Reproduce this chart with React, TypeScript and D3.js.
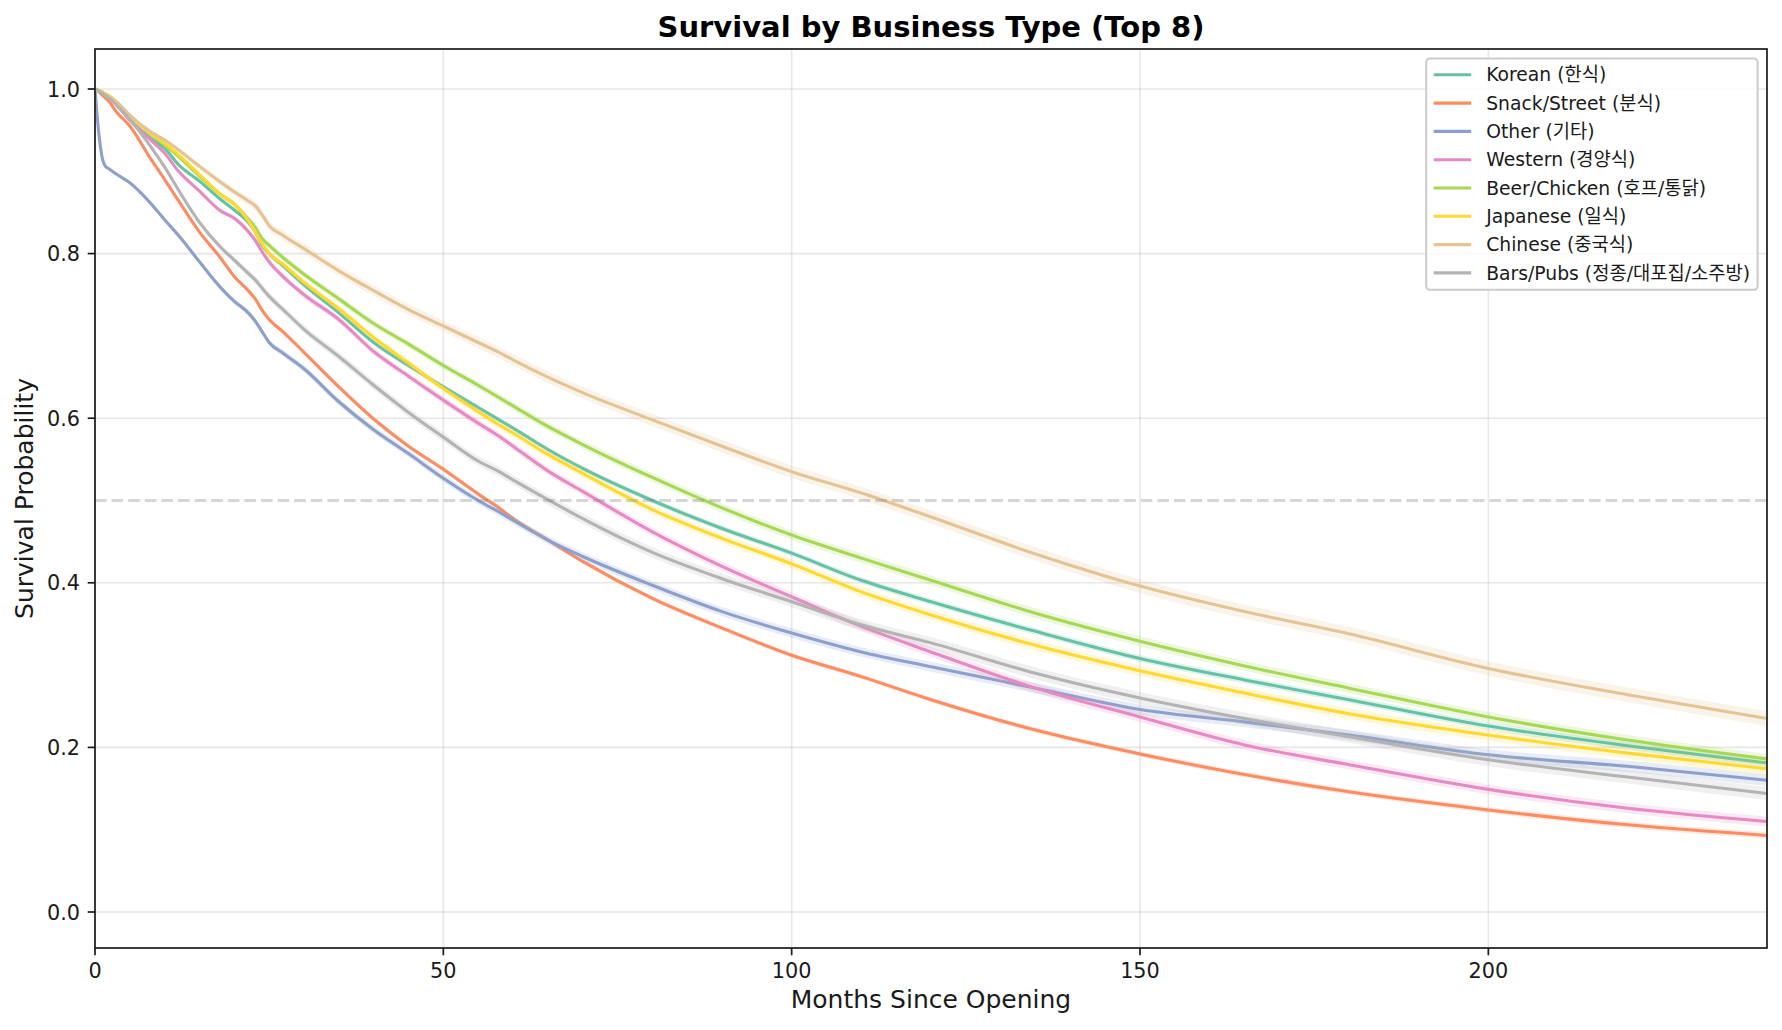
import React, { useEffect, useRef } from 'react';
import * as d3 from 'd3';

// ---------- DATA ----------
const months = [0, 0.5, 1, 1.5, 2, 3, 5, 8, 10, 12, 15, 18, 20, 22, 23, 24, 25, 27, 30, 35, 40, 45, 50, 55, 58, 60, 65, 70, 80, 90, 100, 110, 120, 135, 150, 165, 180, 200, 220, 240];

const korean = [1, 0.998, 0.996, 0.993, 0.99, 0.983, 0.963, 0.94, 0.928, 0.908, 0.888, 0.866, 0.853, 0.838, 0.826, 0.81, 0.8, 0.785, 0.762, 0.728, 0.692, 0.664, 0.638, 0.613, 0.598, 0.588, 0.562, 0.539, 0.5, 0.466, 0.436, 0.403, 0.377, 0.341, 0.308, 0.282, 0.258, 0.226, 0.202, 0.181];
const snack = [1, 0.997, 0.993, 0.989, 0.985, 0.973, 0.955, 0.915, 0.89, 0.864, 0.826, 0.795, 0.772, 0.755, 0.745, 0.731, 0.72, 0.705, 0.68, 0.638, 0.599, 0.566, 0.538, 0.508, 0.491, 0.478, 0.452, 0.426, 0.381, 0.345, 0.312, 0.286, 0.258, 0.221, 0.192, 0.167, 0.146, 0.124, 0.106, 0.093];
const other = [1, 0.95, 0.918, 0.906, 0.903, 0.897, 0.886, 0.861, 0.841, 0.822, 0.79, 0.759, 0.742, 0.728, 0.718, 0.705, 0.692, 0.679, 0.66, 0.62, 0.586, 0.557, 0.527, 0.5, 0.486, 0.476, 0.452, 0.432, 0.397, 0.365, 0.339, 0.316, 0.298, 0.272, 0.246, 0.231, 0.215, 0.191, 0.177, 0.16];
const western = [1, 0.998, 0.996, 0.993, 0.99, 0.982, 0.962, 0.938, 0.922, 0.9, 0.876, 0.852, 0.843, 0.827, 0.816, 0.802, 0.79, 0.772, 0.75, 0.72, 0.681, 0.651, 0.622, 0.594, 0.578, 0.566, 0.536, 0.511, 0.462, 0.42, 0.383, 0.347, 0.316, 0.272, 0.237, 0.203, 0.179, 0.149, 0.126, 0.11];
const beer = [1, 0.998, 0.996, 0.993, 0.991, 0.985, 0.968, 0.945, 0.932, 0.918, 0.894, 0.872, 0.86, 0.842, 0.832, 0.818, 0.81, 0.795, 0.775, 0.745, 0.715, 0.69, 0.664, 0.64, 0.625, 0.615, 0.59, 0.568, 0.528, 0.491, 0.458, 0.43, 0.403, 0.363, 0.329, 0.299, 0.272, 0.237, 0.209, 0.186];
const japanese = [1, 0.998, 0.997, 0.994, 0.992, 0.985, 0.967, 0.946, 0.934, 0.92, 0.896, 0.872, 0.86, 0.84, 0.826, 0.812, 0.8, 0.787, 0.765, 0.733, 0.698, 0.667, 0.636, 0.608, 0.592, 0.582, 0.556, 0.533, 0.489, 0.454, 0.423, 0.389, 0.361, 0.324, 0.293, 0.266, 0.241, 0.215, 0.193, 0.174];
const chinese = [1, 0.998, 0.996, 0.993, 0.991, 0.985, 0.968, 0.948, 0.938, 0.926, 0.906, 0.887, 0.875, 0.864, 0.858, 0.847, 0.834, 0.822, 0.806, 0.779, 0.755, 0.732, 0.712, 0.692, 0.68, 0.671, 0.65, 0.631, 0.598, 0.566, 0.535, 0.509, 0.48, 0.435, 0.396, 0.365, 0.338, 0.296, 0.264, 0.235];
const bars = [1, 0.998, 0.995, 0.992, 0.989, 0.981, 0.963, 0.93, 0.905, 0.877, 0.838, 0.808, 0.792, 0.776, 0.768, 0.758, 0.748, 0.732, 0.708, 0.675, 0.64, 0.607, 0.577, 0.548, 0.535, 0.525, 0.501, 0.478, 0.437, 0.405, 0.377, 0.349, 0.327, 0.29, 0.26, 0.235, 0.213, 0.185, 0.164, 0.144];

// confidence band half-widths, read at a few months
const ciMonths = [0, 24, 60, 120, 240];
const ciKorean = [0, 0.003, 0.003, 0.004, 0.005];
const ciSnack = [0, 0.003, 0.003, 0.003, 0.004];
const ciOther = [0, 0.004, 0.005, 0.006, 0.007];
const ciWestern = [0, 0.004, 0.005, 0.006, 0.006];
const ciBeer = [0, 0.004, 0.005, 0.006, 0.006];
const ciJapanese = [0, 0.004, 0.005, 0.006, 0.007];
const ciChinese = [0, 0.006, 0.007, 0.008, 0.009];
const ciBars = [0, 0.005, 0.006, 0.007, 0.008];

const labels = [
  'Korean (한식)',
  'Snack/Street (분식)',
  'Other (기타)',
  'Western (경양식)',
  'Beer/Chicken (호프/통닭)',
  'Japanese (일식)',
  'Chinese (중국식)',
  'Bars/Pubs (정종/대포집/소주방)',
];
const colors = ['#66c2a5', '#fc8d62', '#8da0cb', '#e78ac3', '#a6d854', '#ffd92f', '#e5c494', '#b3b3b3'];
const seriesValues = [korean, snack, other, western, beer, japanese, chinese, bars];
const seriesCI = [ciKorean, ciSnack, ciOther, ciWestern, ciBeer, ciJapanese, ciChinese, ciBars];

const xTicks = [0, 50, 100, 150, 200];
const yTicks = [0, 0.2, 0.4, 0.6, 0.8, 1.0];

const title = 'Survival by Business Type (Top 8)';
const xLabel = 'Months Since Opening';
const yLabel = 'Survival Probability';

const FONT = "'DejaVu Sans', 'Noto Sans CJK KR', sans-serif";

export default function App() {
  const ref = useRef<SVGSVGElement>(null);

  useEffect(() => {
    const svg = d3.select(ref.current);
    svg.selectAll('*').remove();

    const L = 95, R = 1767, T = 49, B = 948;
    const x = d3.scaleLinear().domain([0, 240]).range([L, R]);
    const y = d3.scaleLinear().domain([0, 1]).range([912, 89]);

    svg.append('rect').attr('width', 1782).attr('height', 1030).attr('fill', '#fff');

    const defs = svg.append('defs');
    defs.append('clipPath').attr('id', 'plotclip')
      .append('rect').attr('x', L).attr('y', T).attr('width', R - L).attr('height', B - T);

    // grid
    const grid = svg.append('g');
    xTicks.forEach((t) => {
      grid.append('line').attr('x1', x(t)).attr('x2', x(t)).attr('y1', T).attr('y2', B)
        .attr('stroke', '#b0b0b0').attr('stroke-opacity', 0.3).attr('stroke-width', 1.6);
    });
    yTicks.forEach((t) => {
      grid.append('line').attr('x1', L).attr('x2', R).attr('y1', y(t)).attr('y2', y(t))
        .attr('stroke', '#b0b0b0').attr('stroke-opacity', 0.3).attr('stroke-width', 1.6);
    });

    // series
    const plot = svg.append('g').attr('clip-path', 'url(#plotclip)');
    seriesValues.forEach((vals, i) => {
      const ciScale = d3.scaleLinear().domain(ciMonths).range(seriesCI[i]);
      const pts = months.map((m, j) => ({ m, v: vals[j], h: ciScale(m) }));
      const area = d3.area<any>()
        .x((d) => x(d.m))
        .y0((d) => y(d.v - d.h))
        .y1((d) => y(d.v + d.h))
        .curve(d3.curveMonotoneX);
      plot.append('path').attr('d', area(pts) as string)
        .attr('fill', colors[i]).attr('fill-opacity', 0.2).attr('stroke', 'none');
      const line = d3.line<any>().x((d) => x(d.m)).y((d) => y(d.v)).curve(d3.curveMonotoneX);
      plot.append('path').attr('d', line(pts) as string)
        .attr('fill', 'none').attr('stroke', colors[i]).attr('stroke-width', 3.1)
        .attr('stroke-linejoin', 'round').attr('stroke-linecap', 'butt');
    });

    // 0.5 reference line
    plot.append('line').attr('x1', L).attr('x2', R).attr('y1', y(0.5)).attr('y2', y(0.5))
      .attr('stroke', 'gray').attr('stroke-opacity', 0.32).attr('stroke-width', 3.1)
      .attr('stroke-dasharray', '11.6,5');

    // spines
    svg.append('rect').attr('x', L).attr('y', T).attr('width', R - L).attr('height', B - T)
      .attr('fill', 'none').attr('stroke', '#1a1a1a').attr('stroke-width', 1.7);

    // ticks
    const tk = svg.append('g').attr('font-family', FONT).attr('font-size', 20.8).attr('fill', '#1a1a1a');
    xTicks.forEach((t) => {
      tk.append('line').attr('x1', x(t)).attr('x2', x(t)).attr('y1', B).attr('y2', B + 7.3)
        .attr('stroke', '#1a1a1a').attr('stroke-width', 1.7);
      tk.append('text').attr('x', x(t)).attr('y', 977.5).attr('text-anchor', 'middle').text(d3.format('d')(t));
    });
    yTicks.forEach((t) => {
      tk.append('line').attr('x1', L - 7.3).attr('x2', L).attr('y1', y(t)).attr('y2', y(t))
        .attr('stroke', '#1a1a1a').attr('stroke-width', 1.7);
      tk.append('text').attr('x', 80).attr('y', y(t) + 7.6).attr('text-anchor', 'end').text(d3.format('.1f')(t));
    });

    // labels
    svg.append('text').attr('x', (L + R) / 2).attr('y', 36.5).attr('text-anchor', 'middle')
      .attr('font-family', FONT).attr('font-size', 29).attr('font-weight', 'bold').attr('fill', '#000')
      .text(title);
    svg.append('text').attr('x', (L + R) / 2).attr('y', 1008).attr('text-anchor', 'middle')
      .attr('font-family', FONT).attr('font-size', 25).attr('fill', '#1a1a1a').text(xLabel);
    svg.append('text').attr('transform', `translate(33,${(T + B) / 2}) rotate(-90)`).attr('text-anchor', 'middle')
      .attr('font-family', FONT).attr('font-size', 25).attr('fill', '#1a1a1a').text(yLabel);

    // legend
    const fs = 18.75;
    const lg = svg.append('g');
    const box = lg.append('rect');
    const items = lg.append('g');
    const rowY = (i: number) => 74.8 + i * 28.3;
    const texts: SVGTextElement[] = [];
    labels.forEach((lab, i) => {
      const t = items.append('text').attr('y', rowY(i) + 6.6)
        .attr('font-family', FONT).attr('font-size', fs).attr('fill', '#1a1a1a').text(lab);
      texts.push(t.node() as SVGTextElement);
    });
    const maxW = d3.max(texts, (n) => n.getComputedTextLength()) || 215;
    const right = 1757.6, top = 58.4;
    const pad = 7.5, hl = 37.5, htp = 15;
    const width = pad + hl + htp + maxW + pad;
    const left = right - width;
    const bottom = rowY(labels.length - 1) + 9.4 + pad;
    box.attr('x', left).attr('y', top).attr('width', width).attr('height', bottom - top)
      .attr('rx', 3.75).attr('fill', '#fff').attr('fill-opacity', 0.8)
      .attr('stroke', '#cccccc').attr('stroke-width', 2);
    labels.forEach((_, i) => {
      items.append('line').attr('x1', left + pad).attr('x2', left + pad + hl)
        .attr('y1', rowY(i)).attr('y2', rowY(i))
        .attr('stroke', colors[i]).attr('stroke-width', 3.1);
    });
    texts.forEach((n) => d3.select(n).attr('x', left + pad + hl + htp));
  }, []);

  return (
    <svg
      ref={ref}
      width={1782}
      height={1030}
      style={{ position: 'absolute', left: 0, top: 0, display: 'block' }}
    />
  );
}
